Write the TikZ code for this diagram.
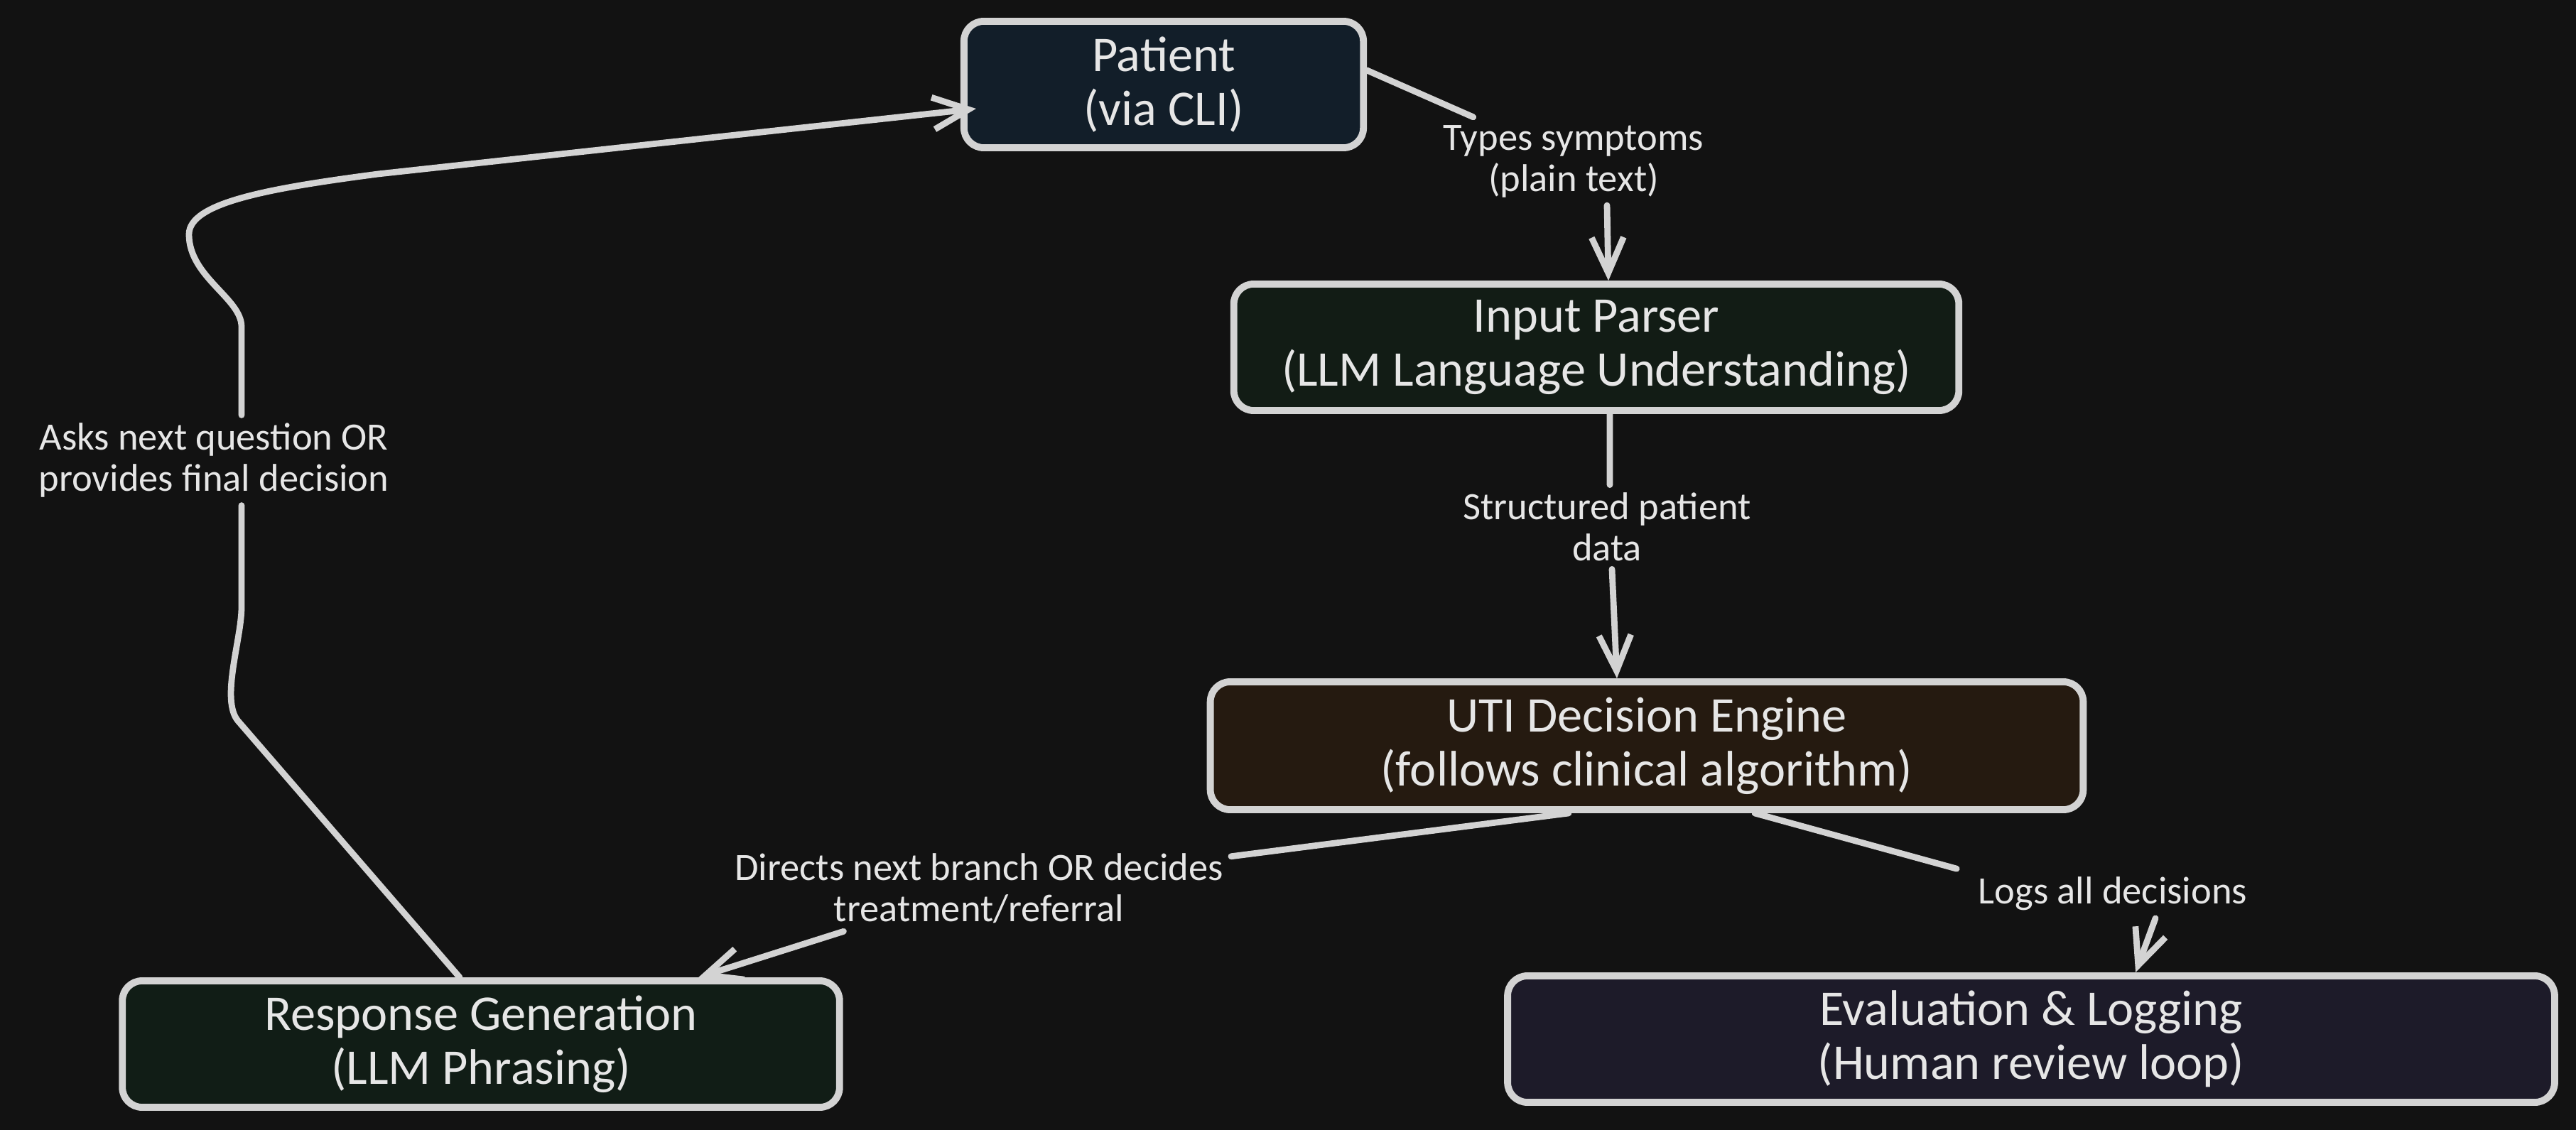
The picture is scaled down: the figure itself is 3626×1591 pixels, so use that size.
\documentclass[tikz,border=0pt]{standalone}
\usepackage{fontspec}
\setmainfont{Carlito}
\usetikzlibrary{arrows.meta,positioning,calc}
\definecolor{bgcolor}{HTML}{121212}
\definecolor{strokecolor}{HTML}{D3D3D3}
\definecolor{textcolor}{HTML}{E6E6E6}
\definecolor{patientcolor}{HTML}{121E29}
\definecolor{parsercolor}{HTML}{121C15}
\definecolor{enginecolor}{HTML}{251A10}
\definecolor{responsecolor}{HTML}{111D16}
\definecolor{evalcolor}{HTML}{1D1B29}

\begin{document}
\begin{tikzpicture}[x=0.01cm, y=-0.01cm,
    box/.style={rectangle, draw=strokecolor, line width=2.8pt, rounded corners=0.28cm, minimum height=1.78cm, align=center, text=textcolor, font=\fontsize{20}{21.6}\selectfont},
    lbl/.style={align=center, text=textcolor, fill=bgcolor, inner sep=3pt, font=\fontsize{15.5}{16.5}\selectfont},
    line/.style={draw=strokecolor, line width=2.5pt, line cap=round},
    arrow/.style={line, -{Straight Barb[length=0.5cm, width=0.45cm]}},
]
    % Canvas
    \fill[bgcolor] (0,0) rectangle (3626,1591);
    \useasboundingbox (0,0) rectangle (3626,1591);

    % Boxes
    \node[box, fill=patientcolor, minimum width=5.62cm] (patient) at (1638,119) {Patient\\(via CLI)};
    \node[box, fill=parsercolor, minimum width=10.2cm] (parser) at (2247,489) {Input Parser\\(LLM Language Understanding)};
    \node[box, fill=enginecolor, minimum width=12.28cm, minimum height=1.8cm] (engine) at (2318,1050) {UTI Decision Engine\\(follows clinical algorithm)};
    \node[box, fill=responsecolor, minimum width=10.09cm] (response) at (677,1470) {Response Generation\\(LLM Phrasing)};
    \node[box, fill=evalcolor, minimum width=14.73cm] (evaluation) at (2859,1463) {Evaluation \& Logging\\(Human review loop)};

    % Labels
    \node[lbl] (types) at (2215,227) {Types symptoms\\(plain text)};
    \node[lbl] (structured) at (2262,742) {Structured patient\\data};
    \node[lbl] (directs) at (1378,1251) {Directs next branch OR decides\\treatment/referral};
    \node[lbl, inner xsep=0.3cm] (logs) at (2974,1258) {Logs all decisions};
    \node[lbl] (asks) at (301,648) {Asks next question OR\\provides final decision};

    % Connectors
    \draw[line] (patient.4) -- (types);
    \draw[arrow] ([xshift=0.47cm]types.south) -- ([xshift=0.17cm]parser.north);
    \draw[line] ([xshift=0.19cm]parser.south) -- ([xshift=0.04cm]structured.north);
    \draw[arrow] ([xshift=0.07cm]structured.south) -- ([xshift=-0.42cm]engine.north);
    \draw[line] ([xshift=-1.1cm]engine.south) -- (directs);
    \draw[arrow] (directs) -- ([xshift=3.06cm]response.north);
    \draw[line] ([xshift=1.52cm]engine.south) -- (logs.north west);
    \draw[arrow] ([xshift=0.6cm]logs.south) -- ([xshift=1.47cm]evaluation.north);

    % Loop back to the patient
    \draw[line] ([xshift=-0.3cm]response.north) -- (335,1015) .. controls (310,985) and (340,900) .. (340,855) -- ([xshift=0.39cm]asks.south);
    \draw[arrow] ([xshift=0.39cm]asks.north) -- (340,460) .. controls (340,420) and (266,390) .. (266,330) .. controls (266,285) and (380,265) .. (532,245) -- ([xshift=0.22cm, yshift=-0.34cm]patient.west);
\end{tikzpicture}
\end{document}
